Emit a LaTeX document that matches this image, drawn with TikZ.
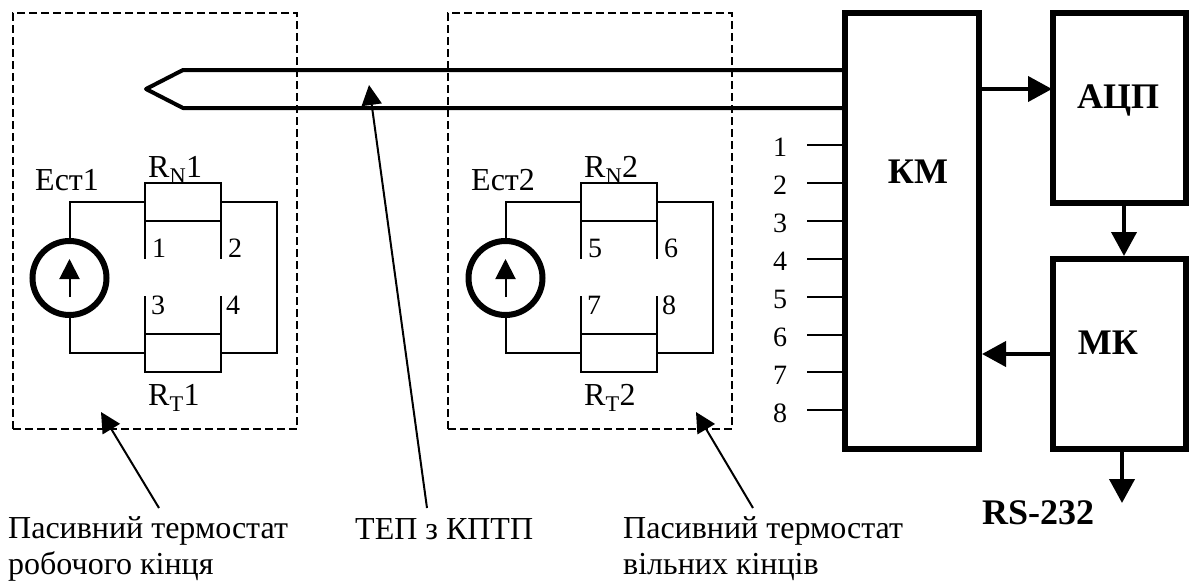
\documentclass[tikz,border=0pt]{standalone}
\usepackage{fontspec}
\setmainfont{Liberation Serif}
\usetikzlibrary{arrows.meta, positioning, calc}

\begin{document}
\begin{tikzpicture}[
            x=1pt, y=-1pt,
            txt/.style={inner sep=0pt, anchor=base west, font=\fontsize{32}{36}\selectfont},
            pintxt/.style={txt, font=\fontsize{28}{34}\selectfont},
            boldtxt/.style={inner sep=0pt, anchor=base, font=\fontsize{36}{40}\selectfont\bfseries},
            thermo/.style={rectangle, draw, line width=2pt, dash pattern=on 8pt off 4pt, minimum width=284pt, minimum height=416pt, outer sep=0pt},
            resist/.style={rectangle, draw, line width=2pt, minimum width=76pt, minimum height=38pt, outer sep=0pt},
            source/.style={circle, draw, line width=6pt, minimum size=74pt, inner sep=0pt, outer sep=0pt},
            block/.style={rectangle, draw, line width=6pt},
            wire/.style={line width=2pt},
            bigarrow/.style={line width=4pt, -{Triangle[length=24pt,width=25pt]}},
            thinarrow/.style={line width=2pt, -{Triangle[length=20pt,width=20pt]}}
        ]
            \useasboundingbox (0,0) rectangle (1189,581);

% Passive thermostats
            \node[thermo] (therm1) at (155,221) {};
            \node[thermo] (therm2) at (590,221) {};

% Blocks
            \node[block, minimum width=134pt, minimum height=436pt] (km) at (912,231) {};
            \node[block, minimum width=133pt, minimum height=190pt] (adc) at (1119.5,108) {};
            \node[block, minimum width=133pt, minimum height=190pt] (mc) at (1119.5,354) {};
            \node[boldtxt] (kmlabel) at (918,183) {КМ};
            \node[boldtxt] (adclabel) at (1118,108) {АЦП};
            \node[boldtxt] (mclabel) at (1108,354) {МК};
            \node[boldtxt, anchor=base west] (rslabel) at (982,524) {RS-232};

% Thermocouple
            \coordinate (probetip) at (146,89);
            \coordinate (probetop) at (183,70);
            \coordinate (probebot) at (183,108);
            \draw[line width=4pt, line join=round] (km.west |- probetop) -- (probetop) -- (probetip) -- (probebot) -- (km.west |- probebot);

% Circuits
            \foreach \n/\dx/\a/\b/\c/\d in {1/0/1/2/3/4, 2/436/5/6/7/8} {
                \node[source] (src\n) at ({\dx+69.5},278) {};
                \node[resist] (rn\n) at ({\dx+183},202) {};
                \node[resist] (rt\n) at ({\dx+183},353) {};
                \coordinate (turn\n) at ({\dx+277},202);
                \draw[wire] (src\n.north) |- (rn\n.west);
                \draw[wire] (src\n.south) |- (rt\n.west);
                \draw[wire] (rn\n.east) -- (turn\n) |- (rt\n.east);
                \draw[wire] (rn\n.south west) -- ++(0,38);
                \draw[wire] (rn\n.south east) -- ++(0,38);
                \draw[wire] (rt\n.north west) -- ++(0,-38);
                \draw[wire] (rt\n.north east) -- ++(0,-38);
                \draw[thinarrow] ([yshift=-19pt]src\n.center) -- ([yshift=19pt]src\n.center);
                \node[txt] (ecaption\n) at ({\dx+35},190) {Ест\n};
                \node[txt] (rncaption\n) at ({\dx+148},177) {R\textsubscript{N}\n};
                \node[txt] (rtcaption\n) at ({\dx+148},405) {R\textsubscript{T}\n};
                \node[pintxt] (pin\a) at ({\dx+152},257) {\a};
                \node[pintxt] (pin\b) at ({\dx+228},257) {\b};
                \node[pintxt] (pin\c) at ({\dx+151},314) {\c};
                \node[pintxt] (pin\d) at ({\dx+226},314) {\d};
            }

% Inputs of the commutator
            \foreach \i in {1,...,8} {
                \node[pintxt, anchor=base] (num\i) at (780,{156+(\i-1)*38}) {\i};
                \coordinate (inp\i) at (807,{145+(\i-1)*37.9});
                \draw[wire] (inp\i) -- (km.west |- inp\i);
            }

% Arrows between blocks
            \draw[bigarrow] (km.east |- probetip) -- ([xshift=2pt]adc.west |- probetip);
            \draw[bigarrow] ([xshift=4.5pt]adc.south) -- ([xshift=4.5pt]mc.north);
            \draw[bigarrow] (mc.west) -- (km.east |- mc.west);
            \coordinate (rstip) at (1122,503);
            \draw[bigarrow] (mc.south -| rstip) -- (rstip);

% Captions
            \node[txt, align=left] (capwork) at (8,574) {Пасивний термостат\\робочого кінця};
            \node[txt] (captep) at (355,539) {ТЕП з КПТП};
            \node[txt, align=left] (capfree) at (623,574) {Пасивний термостат\\вільних кінців};

% Pointers
            \coordinate (tailwork) at (159,508);
            \coordinate (tipwork) at (101,412);
            \coordinate (tailtep) at (427,508);
            \coordinate (tiptep) at (369,85);
            \coordinate (tailfree) at (753,508);
            \coordinate (tipfree) at (696,412);
            \draw[thinarrow] (tailwork) -- (tipwork);
            \draw[thinarrow] (tailtep) -- (tiptep);
            \draw[thinarrow] (tailfree) -- (tipfree);

        \end{tikzpicture}
\end{document}
